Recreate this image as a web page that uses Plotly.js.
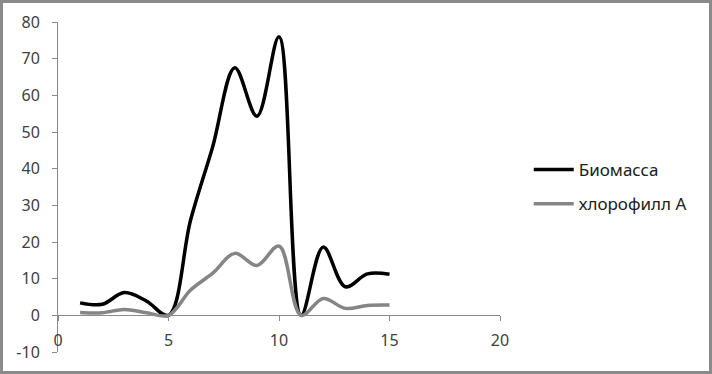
<!DOCTYPE html>
<html>
<head>
<meta charset="utf-8">
<script src="https://cdn.plot.ly/plotly-3.0.1.min.js"></script>
<style>
html,body{margin:0;padding:0;background:#fff;}
#wrap{position:relative;width:712px;height:374px;}
#chart{position:absolute;left:0;top:0;width:712px;height:374px;}
#frame{position:absolute;left:0;top:0;width:712px;height:374px;box-sizing:border-box;border:3px solid #8a8a8a;pointer-events:none;}
</style>
</head>
<body>
<div id="wrap"><div id="chart"></div><div id="frame"></div></div>
<script>
const xValues = [1,2,3,4,5,6,7,8,9,10,11,12,13,14,15];
const biomass = [3.4,3.0,6.2,3.9,0,26,46,67.5,54.3,76,0,18.6,7.8,11.3,11.2];
const chlorophyll = [0.8,0.7,1.6,0.7,0,6.9,11.5,16.9,13.6,18.9,0,4.6,1.9,2.7,2.8];
const seriesNames = ["Биомасса","хлорофилл А"];
const xTicks = [0,5,10,15,20];
const yTicks = [-10,0,10,20,30,40,50,60,70,80];

const font = "Noto Sans, Open Sans, sans-serif";
const traces = [
  {x:xValues,y:biomass,name:seriesNames[0],mode:"lines",legendgroup:"a",
   line:{color:"#000000",width:3.5,shape:"spline",smoothing:1}},
  {x:xValues,y:chlorophyll,name:seriesNames[1],mode:"lines",legendgroup:"b",
   line:{color:"#858585",width:3.5,shape:"spline",smoothing:1}}
];
const layout = {
  width:712,height:374,
  margin:{l:58,r:212,t:22,b:22},
  paper_bgcolor:"#ffffff",plot_bgcolor:"#ffffff",
  font:{family:font,size:16,color:"#404040"},
  showlegend:true,
  legend:{x:1.065,y:0.5,yanchor:"middle",xanchor:"left",tracegroupgap:9,itemwidth:40,
          font:{family:font,size:17,color:"#202020"},bgcolor:"rgba(0,0,0,0)"},
  xaxis:{range:[0,20],tickvals:xTicks,ticktext:xTicks.map(String),
         anchor:"free",position:1/9,showline:true,linecolor:"#8a8a8a",linewidth:1,
         ticks:"outside",ticklen:5,tickcolor:"#8a8a8a",showgrid:false,zeroline:false,
         ticklabelstandoff:5,fixedrange:true},
  yaxis:{range:[-10,80],tickvals:yTicks,ticktext:yTicks.map(String),
         showline:true,linecolor:"#8a8a8a",linewidth:1,ticks:"outside",ticklen:5,
         tickcolor:"#8a8a8a",showgrid:false,zeroline:false,ticklabelstandoff:9,fixedrange:true}
};
Plotly.newPlot("chart",traces,layout,{displayModeBar:false,staticPlot:true});
</script>
</body>
</html>
